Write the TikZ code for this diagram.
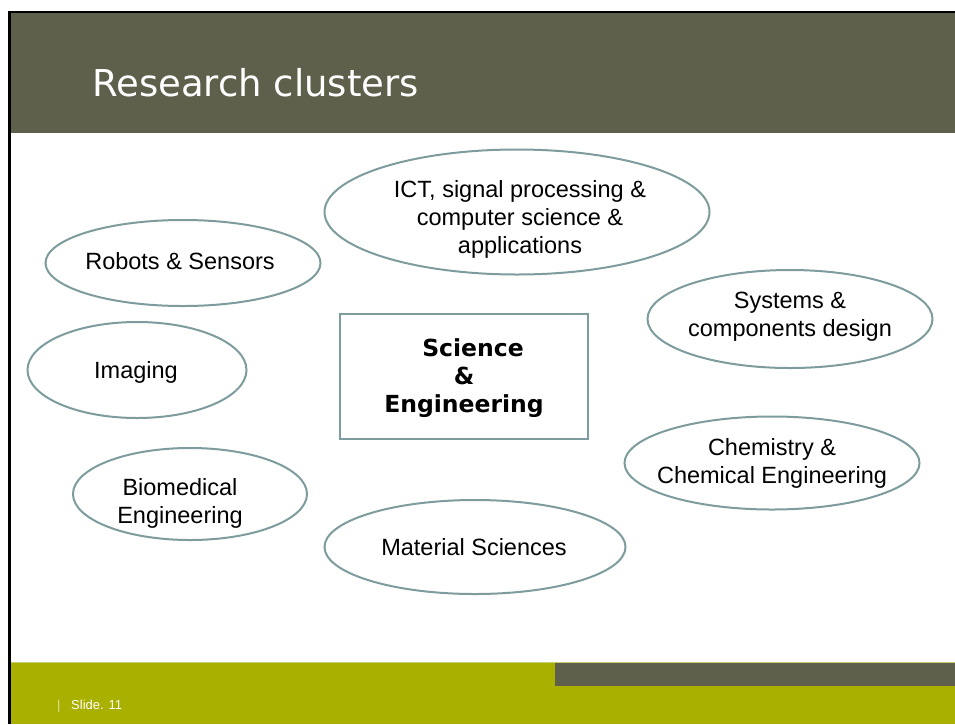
\documentclass[tikz,border=0pt]{standalone}
\usepackage{fontspec}
\setmainfont{Liberation Sans}
\newfontfamily\titlefont{DejaVu Sans}
\newfontfamily\boxfont{DejaVu Sans}
\usetikzlibrary{shapes.geometric}
\definecolor{barcol}{RGB}{94,96,75}
\definecolor{ellcol}{RGB}{126,156,158}
\definecolor{footcol}{RGB}{169,176,0}
\definecolor{footline}{RGB}{200,206,110}
\definecolor{pipecol}{RGB}{225,228,150}
\tikzset{
  cluster/.style={ellipse, draw=ellcol, line width=2pt, inner sep=0pt},
  clustertext/.style={inner sep=0pt, align=center, text=black,
    font=\fontsize{23.5pt}{28pt}\selectfont},
  corebox/.style={rectangle, draw=ellcol, line width=2pt, inner sep=0pt,
    align=center, font=\boxfont\bfseries\fontsize{23.5pt}{27.5pt}\selectfont},
}
\begin{document}
\begin{tikzpicture}[x=1pt,y=-1pt]
\useasboundingbox (0,0) rectangle (955,724);
\fill[white] (0,0) rectangle (955,724);
% title bar
\fill[barcol] (10,12) rectangle (955,133);
\node[anchor=base west, text=white, font=\titlefont\fontsize{37pt}{42pt}\selectfont, inner sep=0pt] (title) at (92,96) {Research clusters};
% footer
\fill[footcol] (10,662) rectangle (955,724);
\fill[footline] (10,661.5) rectangle (955,663);
\fill[barcol] (555,663) rectangle (955,686);
\node[anchor=base west, text=pipecol, font=\fontsize{13pt}{15pt}\selectfont, inner sep=0pt] (pipe) at (57,709) {|};
\node[anchor=base west, text=white, font=\fontsize{13pt}{15pt}\selectfont, inner sep=0pt] (slide) at (71,709) {Slide. 11};
% borders
\draw[black, line width=2pt] (8,12) -- (955,12);
\draw[black, line width=3pt] (9.5,11) -- (9.5,724);
% clusters
\node[cluster, minimum width=275pt, minimum height=86pt] (robots) at (183,263) {};
\node[clustertext] (robotsT) at (180,261) {Robots \& Sensors};
\node[cluster, minimum width=385pt, minimum height=125pt] (ict) at (517,212) {};
\node[clustertext] (ictT) at (520,219) {ICT, signal processing \&\\computer science \&\\applications};
\node[cluster, minimum width=285pt, minimum height=98pt] (systems) at (790,319) {};
\node[clustertext] (systemsT) at (790,317) {Systems \&\\components design};
\node[cluster, minimum width=219pt, minimum height=96pt] (imaging) at (137,370) {};
\node[clustertext] (imagingT) at (136,372) {Imaging};
\node[cluster, minimum width=295pt, minimum height=93pt] (chem) at (772,463) {};
\node[clustertext] (chemT) at (772,463) {Chemistry \&\\Chemical Engineering};
\node[cluster, minimum width=234pt, minimum height=92pt] (bio) at (190,494) {};
\node[clustertext] (bioT) at (180,503) {Biomedical\\Engineering};
\node[cluster, minimum width=301pt, minimum height=94pt] (material) at (475,547) {};
\node[clustertext] (materialT) at (474,547) {Material Sciences};
% core
\node[corebox, minimum width=248pt, minimum height=125pt] (core) at (464,376.5) {};
\node[inner sep=0pt, align=center, font=\boxfont\bfseries\fontsize{23.5pt}{28pt}\selectfont] (coreT) at (464,378) {\hspace*{18pt}Science\\\&\\Engineering};
\end{tikzpicture}
\end{document}
